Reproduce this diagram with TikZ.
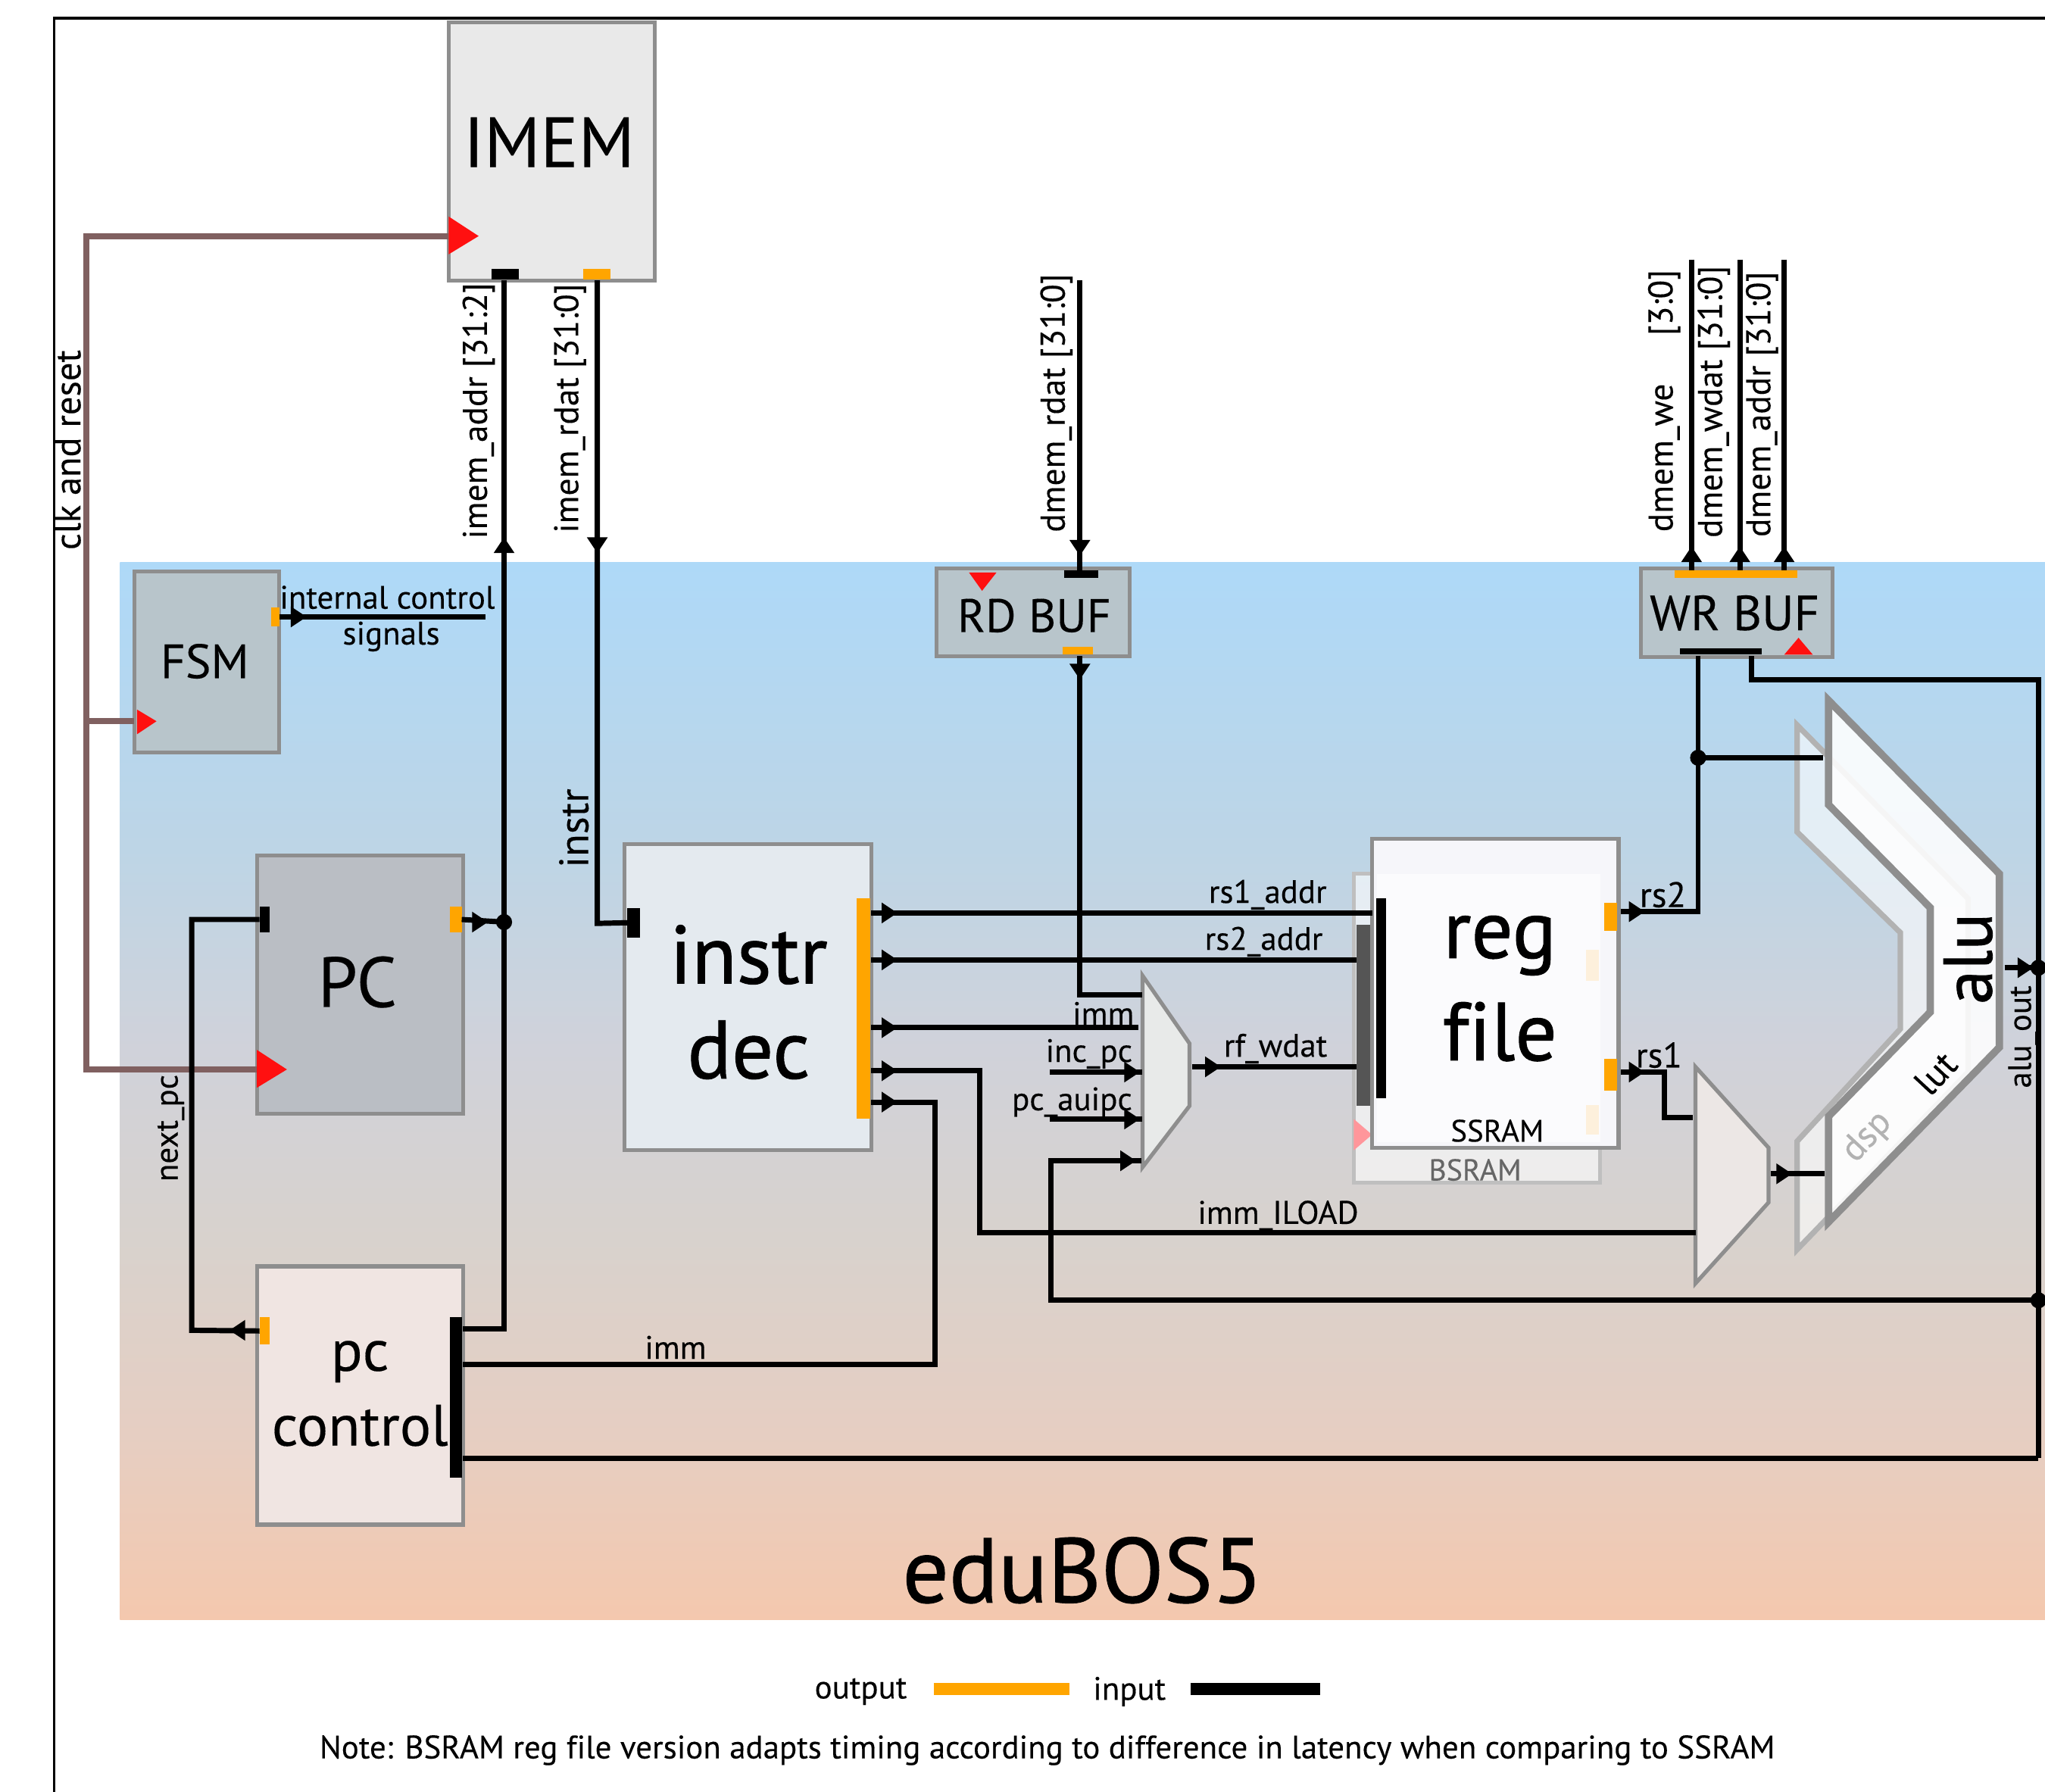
\documentclass[tikz,border=0pt]{standalone}
\usepackage{fontspec}
\setmainfont[Ligatures=NoCommon]{PT Sans}
\newfontfamily\heavy[FakeBold=0.9,Ligatures=NoCommon]{PT Sans}
\newfontfamily\semi[FakeBold=0.2,Ligatures=NoCommon]{PT Sans}
\usetikzlibrary{calc}
\definecolor{bgA}{HTML}{AED9F8}
\definecolor{bgB}{HTML}{BDD5E6}
\definecolor{bgC}{HTML}{D0D2DA}
\definecolor{bgD}{HTML}{D8D2CD}
\definecolor{bgE}{HTML}{E6CEC2}
\definecolor{bgF}{HTML}{F4C8AE}
\definecolor{edge}{HTML}{8E8E8E}
\definecolor{clkc}{HTML}{806060}
\definecolor{portO}{HTML}{FFA500}
\definecolor{portF}{HTML}{FDF0DC}
\definecolor{redT}{HTML}{FF1010}
\definecolor{bufc}{HTML}{B8C5CB}
\pgfdeclareverticalshading{bgshade}{100bp}{
 color(0bp)=(bgF); color(25bp)=(bgF); color(33.75bp)=(bgE); color(43bp)=(bgD); color(52bp)=(bgC); color(61.5bp)=(bgB); color(75bp)=(bgA); color(100bp)=(bgA)}
\tikzset{
 sz/.style 2 args={minimum width=#1*0.02cm,minimum height=#2*0.02cm,inner sep=0pt,outer sep=0pt},
 block/.style={draw=edge,line width=1.7pt,align=center,inner sep=0pt,outer sep=0pt},
 portk/.style={fill=black},
 porto/.style={fill=portO},
 wire/.style={draw=black,line width=2.3pt},
 clkw/.style={draw=clkc,line width=2.6pt},
 muxs/.style={draw=edge,line width=1.7pt},
 lab/.style={inner sep=0pt,font=\semi\fontsize{14.2}{16}\selectfont},
 rlab/.style={inner sep=0pt,rotate=90,font=\semi\fontsize{15}{17}\selectfont},
 txt/.style={inner sep=0pt,font=\heavy\fontsize{#1}{#1}\selectfont},
 txl/.style={inner sep=0pt,font=\semi\fontsize{#1}{#1}\selectfont},
 dot/.style={circle,fill=black,minimum size=7pt,inner sep=0pt},
}
\newcommand{\tipR}[2]{\fill (#1-6,#2-8) -- (#1+6,#2) -- (#1-6,#2+8) -- cycle;}
\newcommand{\tipL}[2]{\fill (#1+6,#2-8) -- (#1-6,#2) -- (#1+6,#2+8) -- cycle;}
\newcommand{\tipU}[2]{\fill (#1-8,#2+6) -- (#1,#2-6) -- (#1+8,#2+6) -- cycle;}
\newcommand{\tipD}[2]{\fill (#1-8,#2-6) -- (#1,#2+6) -- (#1+8,#2-6) -- cycle;}
\begin{document}
\begin{tikzpicture}[x=0.02cm,y=-0.02cm]
\useasboundingbox (0,0) rectangle (1568,1374);
\fill[white] (0,0) rectangle (1568,1374);
% frame and background
\draw[line width=1.2pt] (41.5,1374) -- (41.5,14) -- (1568,14);
\shade[shading=bgshade] (92,431) rectangle (1568,1242);
% blocks
\node[block,sz={158}{198},fill=black!8.5] (imem) at (423,116) {};
\node[txl=31] (imemt) at (421,109) {IMEM};
\node[block,sz={111}{139},fill=bufc] (fsm) at (158.5,507.5) {};
\node[txl=21] (fsmt) at (157,507) {FSM};
\node[block,sz={158}{198},fill={rgb,255:red,186;green,190;blue,196}] (pc) at (276,755) {};
\node[txl=31] (pct) at (274,753) {PC};
\node[block,sz={158}{198},fill={rgb,255:red,240;green,229;blue,226}] (pcc) at (276,1070) {};
\node[txl=25.5] (pcct) at (276,1044) {pc};
\node[txl=25.5] (pcct2) at (276,1093) {control};
\node[block,sz={189}{235},fill={rgb,255:red,228;green,234;blue,239}] (dec) at (573.5,764.5) {};
\node[txt=36] (dect1) at (574,732) {instr};
\node[txt=36] (dect2) at (574,805) {dec};
\node[block,sz={148}{67},fill=bufc] (rd) at (792,469.5) {};
\node[txl=20.5] (rdt) at (793,472) {RD BUF};
\node[block,sz={147}{68},fill=bufc] (wr) at (1331.5,470) {};
\node[txl=21.5] (wrt) at (1330,470) {WR BUF};
% BSRAM + reg file
\node[draw=black!25,line width=1.7pt,fill=white,fill opacity=.6,sz={189}{237}] (bs) at (1132.5,788.5) {};
\fill[fill={rgb,255:red,255;green,150;blue,155}] (1038,858) -- (1052,870) -- (1038,882) -- cycle;
\node[fill={rgb,255:red,85;green,85;blue,85},sz={12}{139}] (bsp) at (1046,778.5) {};
\node[block,sz={189}{237},fill={rgb,255:red,246;green,246;blue,250}] (rf) at (1146.5,761.5) {};
\fill[white,fill opacity=.6] (1056,670) rectangle (1227,876);
\node[txt=36] (rft1) at (1150,725) {reg};
\node[txt=36] (rft2) at (1150,791) {file};
\node[txl=13.5] (ss) at (1148,867) {SSRAM};
\node[txl=13.2,text=black!60] (bst) at (1131,897) {BSRAM};
% ports
\node[portk,sz={21}{8}] (pA) at (387.5,210) {};
\node[porto,sz={21}{8}] (pB) at (457.5,210) {};
\node[porto,sz={6}{14}] (pF) at (211,473) {};
\node[portk,sz={8}{20}] (pPi) at (203,705) {};
\node[porto,sz={9}{20}] (pPo) at (349.5,705) {};
\node[porto,sz={8}{21}] (pCo) at (203,1020.5) {};
\node[portk,sz={9}{123}] (pCi) at (349.5,1071.5) {};
\node[portk,sz={10}{23}] (pDi) at (486,707.5) {};
\node[porto,sz={10}{169}] (pDo) at (662,773.5) {};
\node[portk,sz={26}{6}] (pRi) at (829,440) {};
\node[porto,sz={23}{6}] (pRo) at (826.5,499) {};
\node[porto,sz={94}{6}] (pWo) at (1331,440) {};
\node[portk,sz={63}{5}] (pWi) at (1319.5,499.5) {};
\node[portk,sz={8}{153}] (pFi) at (1059,765.5) {};
\node[porto,sz={10}{22}] (pS2) at (1235,703) {};
\node[porto,sz={10}{24}] (pS1) at (1235,824) {};
\node[fill=portF,sz={10}{24}] (pF1) at (1221,740) {};
\node[fill=portF,sz={10}{23}] (pF2) at (1221,858.5) {};
% red triangles
\fill[redT] (344,166) -- (367,181) -- (344,195) -- cycle;
\fill[redT] (105,544) -- (120,553) -- (105,563) -- cycle;
\fill[redT] (197,805) -- (220,820) -- (197,834) -- cycle;
\fill[redT] (743,439) -- (764,439) -- (753,453) -- cycle;
\fill[redT] (1368,502) -- (1390,502) -- (1379,489) -- cycle;
% muxes
\coordinate (m1a) at (876,748); \coordinate (m1b) at (912,800); \coordinate (m1c) at (912,848); \coordinate (m1d) at (876,895);
\draw[muxs,fill={rgb,255:red,232;green,234;blue,233}] (m1a) -- (m1b) -- (m1c) -- (m1d) -- cycle;
\coordinate (m2a) at (1300,818); \coordinate (m2b) at (1356,880); \coordinate (m2c) at (1356,922); \coordinate (m2d) at (1300,984);
\draw[muxs,fill={rgb,255:red,236;green,231;blue,229}] (m2a) -- (m2b) -- (m2c) -- (m2d) -- cycle;
% ALU layers
\draw[draw=black!30,line width=2.4pt,fill=white,fill opacity=.6] (1378,556) -- (1509,689) -- (1509,822) -- (1378,958) -- (1378,875) -- (1457,789) -- (1457,715) -- (1378,638) -- cycle;
\draw[draw=edge,line width=3.2pt,fill=white,fill opacity=.88] (1402,537) -- (1533,670) -- (1533,803) -- (1402,937) -- (1402,856) -- (1480,776) -- (1480,696) -- (1402,617) -- cycle;
\node[rotate=90,txt=30] (alut) at (1509,735) {alu};
\node[rotate=47,inner sep=0pt,font=\semi\fontsize{16}{18}\selectfont] (lutt) at (1484,823) {lut};
\node[rotate=47,inner sep=0pt,font=\semi\fontsize{16}{18}\selectfont,text=black!30] (dspt) at (1432,872) {dsp};
% wire waypoints
\coordinate (clkA) at (66,181); \coordinate (clkB) at (66,820); \coordinate (clkC) at (66,553);
\coordinate (imC) at (386.5,707);
\coordinate (nxA) at (147,705); \coordinate (nxB) at (147,1020);
\coordinate (immA) at (717,1046); \coordinate (immB) at (717,845);
\coordinate (iloA) at (751,821); \coordinate (iloB) at (751,945);
\coordinate (rbusT) at (1563,521); \coordinate (rbusB) at (1563,1118);
\coordinate (j1) at (1563,742); \coordinate (j2) at (1563,997);
\coordinate (fbA) at (806,997); \coordinate (fbB) at (806,890);
\coordinate (wA) at (1302,699); \coordinate (wJ) at (1302,581);
\coordinate (wB) at (1343,521);
\coordinate (rs1A) at (1276,822); \coordinate (rs1B) at (1276,857);
\coordinate (dmA) at (828,215); \coordinate (dmB) at (828,763);
\coordinate (w1) at (1297,199); \coordinate (w2) at (1334,199); \coordinate (w3) at (1368,199);
\coordinate (sigE) at (372,473);
\coordinate (incS) at (805,822); \coordinate (aipS) at (805,858);
% clk wires
\draw[clkw] (imem.west |- clkA) -- (clkA) -- (clkB) -- (pc.west |- clkB);
\draw[clkw] (clkC) -- (fsm.west |- clkC);
% imem wires
\draw[wire] (386.5,215) -- (386.5,1019) -- (pcc.east |- 0,1019);
\draw[wire] (pPo.east) -- (imC); \tipR{368}{707}
\node[dot] (jc) at (imC) {};
\tipU{386.5}{418}
\draw[wire] (458,215) -- (458,708) -- (pDi.west);
\tipD{458}{418}
% fsm
\draw[wire] (pF.east) -- (sigE); \tipR{229}{473}
% next pc
\draw[wire] (pPi.west) -- (nxA) -- (nxB) -- (pCo.west); \tipL{182}{1020}
% pc control
\draw[wire] (pcc.east |- immA) -- (immA) -- (immB) -- (dec.east |- immB); \tipR{682}{845}
\draw[wire] (pcc.east |- rbusB) -- (rbusB);
% decode
\draw[wire] (dec.east |- 0,700) -- (rf.west |- 0,700); \tipR{682}{700}
\draw[wire] (dec.east |- 0,736) -- (bsp.west |- 0,736); \tipR{682}{736}
\draw[wire] (dec.east |- 0,788) -- (873,788); \tipR{682}{788}
\draw[wire] (dec.east |- iloA) -- (iloA) -- (iloB) -- (m2a |- iloB); \tipR{682}{821}
% mux1
\draw[wire] (914,818) -- (bsp.west |- 0,818); \tipR{930}{818}
\draw[wire] (incS) -- (876,822); \tipR{868}{822}
\draw[wire] (aipS) -- (876,858); \tipR{868}{858}
\draw[wire] (rbusB |- fbA) -- (fbA) -- (fbB) -- (875,890); \tipR{865}{890}
% dmem read
\draw[wire] (dmA) -- (828,437); \tipD{828}{420}
\draw[wire] (828,503) -- (dmB) -- (876,763); \tipD{828}{515}
% dmem write
\draw[wire] (w1) -- (1297,437); \tipU{1297}{425}
\draw[wire] (w2) -- (1334,437); \tipU{1334}{425}
\draw[wire] (w3) -- (1368,437); \tipU{1368}{425}
\draw[wire] (1302,503) -- (wA) -- (1243,699); \tipR{1255}{699}
\draw[wire] (wJ) -- (1398,581);
\node[dot] (jw) at (wJ) {};
\draw[wire] (1343,503) -- (wB) -- (rbusT) -- (rbusB);
% rs1
\draw[wire] (1243,822) -- (rs1A) -- (rs1B) -- (1298,857); \tipR{1255}{822}
\draw[wire] (1358,900) -- (1399,900); \tipR{1368}{900}
% alu out
\draw[wire] (1537,742) -- (j1); \tipR{1553}{742}
\node[dot] (jA) at (j1) {};
\node[dot] (jB) at (j2) {};
% labels
\node[rlab,font=\semi\fontsize{16}{18}\selectfont] (t1) at (52,345) {clk and reset};
\node[rlab] (t2) at (367,315) {imem\_addr [31:2]};
\node[rlab] (t3) at (437,313) {imem\_rdat [31:0]};
\node[rlab,font=\semi\fontsize{18}{20}\selectfont] (t4) at (440,635) {instr};
\node[rlab] (t5) at (810,309) {dmem\_rdat [31:0]};
\node[rlab] (t6) at (1276,351) {dmem\_we};
\node[rlab] (t7) at (1276,232) {[3:0]};
\node[rlab] (t8) at (1314,308) {dmem\_wdat [31:0]};
\node[rlab] (t9) at (1351,310) {dmem\_addr [31:0]};
\node[lab] (t10) at (297,458) {internal control};
\node[lab] (t11) at (300,488) {signals};
\node[lab,rotate=90] (t12) at (131,865) {next\_pc};
\node[lab] (t13) at (518,1033) {imm};
\node[lab] (t14) at (972,686) {rs1\_addr};
\node[lab] (t15) at (969,722) {rs2\_addr};
\node[lab] (t16) at (846,777) {imm};
\node[lab] (t17) at (835,808) {inc\_pc};
\node[lab] (t18) at (822,845) {pc\_auipc};
\node[lab] (t19) at (978,804) {rf\_wdat};
\node[lab] (t20) at (980,932) {imm\_ILOAD};
\node[lab,font=\semi\fontsize{15.5}{17}\selectfont] (t21) at (1275,686) {rs2};
\node[lab,font=\semi\fontsize{15.5}{17}\selectfont] (t22) at (1272,809) {rs1};
\node[lab,rotate=90] (t23) at (1551,795) {alu\_out};
\node[txt=40] (edu) at (830,1204) {eduBOS5};
\node[lab] (t24) at (660,1297) {output};
\draw[draw=portO,line width=5pt] (716,1295) -- (820,1295);
\node[lab] (t25) at (866,1297) {input};
\draw[draw=black,line width=5pt] (913,1295) -- (1012,1295);
\node[lab] (t26) at (803,1342) {Note: BSRAM reg file version adapts timing according to difference in latency when comparing to SSRAM};
\end{tikzpicture}
\end{document}
